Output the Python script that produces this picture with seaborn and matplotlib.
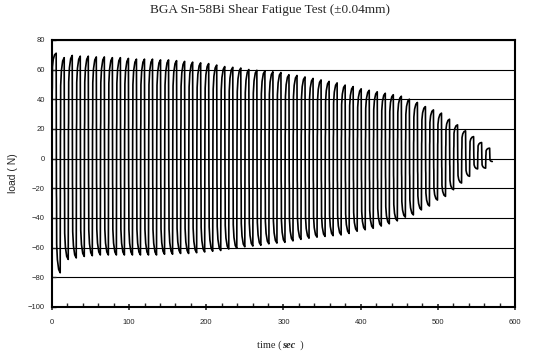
import matplotlib
matplotlib.use("Agg")
import matplotlib.pyplot as plt
import seaborn as sns
import numpy as np

# cycle extremes (N)
peak_load = [71, 68, 69.5, 69, 69, 68.5, 68.5, 68, 68, 67.5,
             67, 67, 67, 66.5, 66.5, 66, 65.5, 65, 64.5, 64,
             63, 62, 61.5, 61, 60, 59.5, 59, 58.5, 58, 56.5,
             56, 55, 54, 53, 52, 51, 49.5, 48.5, 47, 46,
             45, 44, 43, 42, 40, 37.8, 35, 32.8, 30.6, 26.5,
             22.7, 18.7, 14.8, 10.8, 7]
valley_load = [-77, -68, -67, -66, -65.5, -65, -65, -65, -65, -65,
               -65, -65, -65, -64.5, -64.5, -64, -64, -63.5, -63, -62.5,
               -62, -61, -60.5, -59.5, -59, -58.5, -57.5, -57, -56.5, -55.5,
               -54.5, -53.7, -53, -52.5, -52, -51.5, -50.5, -49, -48, -47,
               -45.5, -44, -42, -39.5, -38, -34.6, -32, -28, -25.5, -21,
               -16.5, -12, -7, -6.5]
start_load, end_load = 0.0, -2.0
first_peak_time = 5.5      # sec
half_period = 5.2          # sec
end_time = 570.5

# shape of one load reversal (fraction of half cycle, fraction of swing)
shape_t = [0, 0.03, 0.06, 0.09, 0.12, 0.30, 0.62, 1.0]
shape_v = [0, 0.40, 0.64, 0.67, 0.87, 0.94, 0.985, 1.0]

# sequence of extremes
ext_v = [start_load]
ext_t = [0.0]
for k, p in enumerate(peak_load):
    tp = first_peak_time + 2 * k * half_period
    ext_v.append(p); ext_t.append(tp)
    if k < len(valley_load):
        ext_v.append(valley_load[k]); ext_t.append(tp + half_period)
ext_v.append(end_load); ext_t.append(end_time)

time, load = [ext_t[0]], [ext_v[0]]
for i in range(len(ext_v) - 1):
    ta, tb, a, b = ext_t[i], ext_t[i + 1], ext_v[i], ext_v[i + 1]
    for ft, fv in zip(shape_t[1:], shape_v[1:]):
        time.append(ta + ft * (tb - ta))
        load.append(a + fv * (b - a))

sns.set_style("white")
plt.rcParams['font.family'] = ['Liberation Sans', 'DejaVu Sans']

fig = plt.figure(figsize=(5.41, 3.56), dpi=100)
ax = fig.add_axes([0.096, 0.138, 0.856, 0.750])

sns.lineplot(x=time, y=load, sort=False, estimator=None, color="black",
             lw=1.2, ax=ax)

ax.set_xlim(0, 600)
ax.set_ylim(-100, 80)
ax.set_xticks(np.arange(0, 601, 100))
ax.set_xticks(np.arange(0, 601, 20), minor=True)
ax.set_yticks(np.arange(-100, 81, 20))
ax.yaxis.grid(True, color="black", lw=0.8)
ax.xaxis.grid(False)
ax.set_axisbelow(True)
for s in ax.spines.values():
    s.set_color("black")
    s.set_linewidth(1.5)
ax.tick_params(axis="x", which="major", direction="inout", length=5, width=1.2,
               labelsize=5.5, pad=6, bottom=True)
ax.tick_params(axis="x", which="minor", direction="in", length=3, width=1.0,
               bottom=True)
ax.tick_params(axis="y", direction="in", length=3, width=1.0, labelsize=5.5,
               pad=5, left=True)

ax.set_ylabel("load ( N)", fontsize=7.5, labelpad=7)

fig.suptitle("BGA Sn-58Bi Shear Fatigue Test (\u00b10.04mm)", x=0.5, y=0.99,
             fontsize=9.5, family="Liberation Serif")

t1 = fig.text(0.521, 0.022, "time (", fontsize=7.5, family="Liberation Serif",
              ha="right", va="baseline")
t2 = ax.annotate("sec", xy=(1, 0), xycoords=t1, va="bottom", ha="left",
                 fontsize=7.5, family="Liberation Serif", weight="bold",
                 style="italic")
ax.annotate("  )", xy=(1, 0), xycoords=t2, va="bottom", ha="left",
            fontsize=7.5, family="Liberation Serif")

fig.savefig("out.png", dpi=100)
